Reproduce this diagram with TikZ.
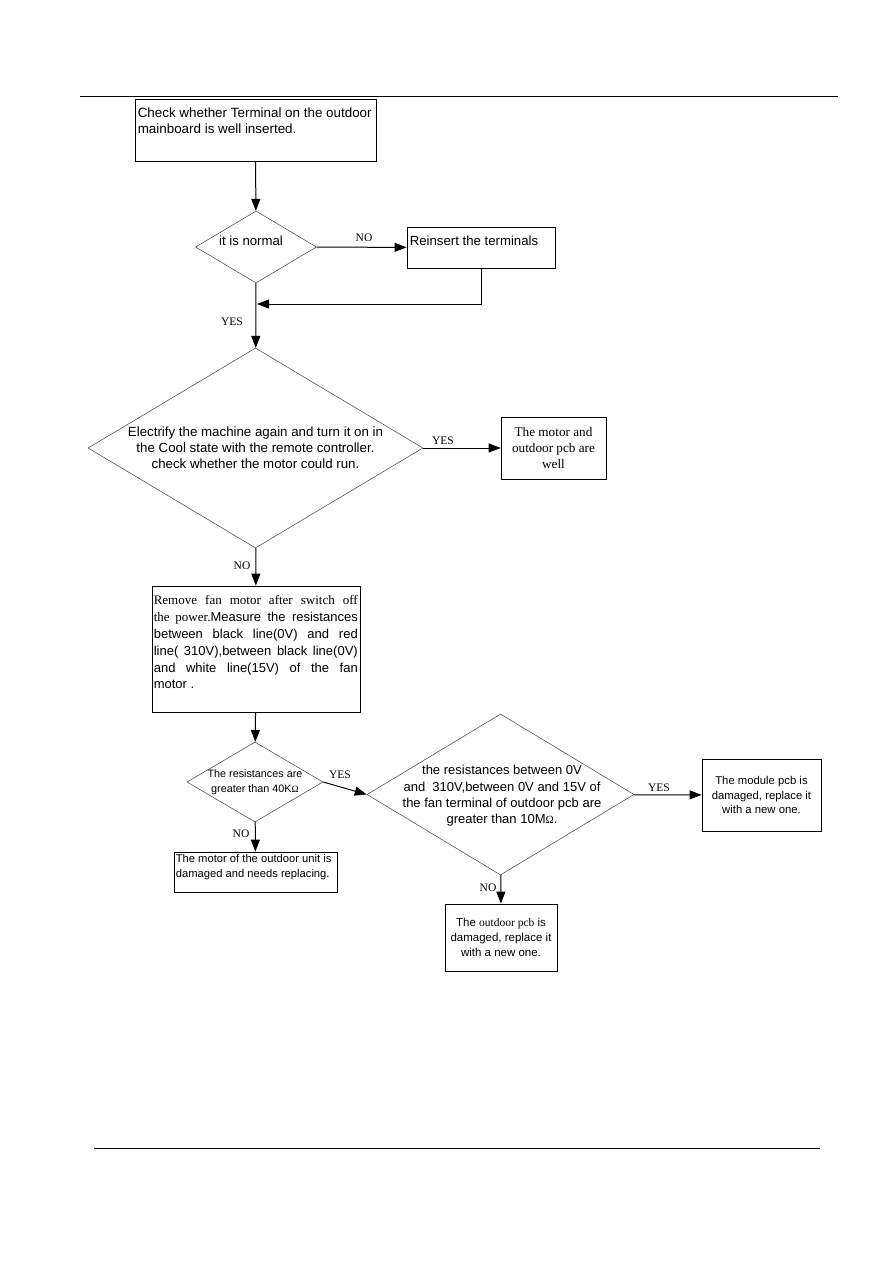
\documentclass[tikz,border=0pt]{standalone}
\usepackage{fontspec}
\setmainfont{Liberation Serif}
\setsansfont{Liberation Sans}
\usepackage{tikz}
\usetikzlibrary{arrows.meta,shapes.geometric}
\newcommand{\fsz}[2]{\fontsize{#1}{#2}\selectfont}
\newcommand{\jline}[1]{\makebox[204pt][s]{#1}}
\tikzset{
  box/.style={rectangle, draw=black, line width=0.8pt, inner sep=0pt, align=center},
  dec/.style={diamond, draw=black!75, line width=0.5pt, inner sep=0pt},
  txt/.style={align=left, inner xsep=3pt, inner ysep=9pt, anchor=north west},
  fl/.style={-{Triangle[length=12pt,width=9pt]}, draw=black, line width=1pt},
  lbl/.style={font=\rmfamily\fsz{11.5}{13}, inner sep=0pt}
}

\begin{document}
\begin{tikzpicture}[x=1pt,y=-1pt]
  \useasboundingbox (0,0) rectangle (893,1263);
  % page rules
  \draw[line width=0.8pt] (80,96) -- (838,96);
  \draw[line width=0.8pt] (94,1148) -- (820,1148);

  % first check
  \node[box, minimum width=241pt, minimum height=62pt,
        label={[txt, font=\sffamily\fsz{13.4}{16}]north west:{Check whether Terminal on the outdoor\\mainboard is well inserted.}}]
        (chk) at (255.5,130) {};
  \node[dec, minimum width=121pt, minimum height=72pt,
        label={[font=\sffamily\fsz{13.2}{16}, xshift=-5pt, yshift=6pt]center:it is normal}]
        (norm) at (256,247) {};
  \node[box, minimum width=148pt, minimum height=41pt,
        label={[txt, font=\sffamily\fsz{13.2}{16}]north west:Reinsert the terminals}]
        (reins) at (481,247.5) {};
  \coordinate (mrg) at (257,304);

  % run test
  \node[dec, minimum width=335pt, minimum height=200pt,
        label={[align=center, font=\sffamily\fsz{13.3}{16}]center:{Electrify the machine again and turn it on in\\the Cool state with the remote controller.\\check whether the motor could run.}}]
        (run) at (255.5,448) {};
  \node[box, minimum width=105pt, minimum height=62pt, font=\rmfamily\fsz{13.2}{16}]
        (well) at (553.5,448) {The motor and\\outdoor pcb are\\well};

  % measure
  \node[box, minimum width=208pt, minimum height=126pt,
        label={[txt, inner xsep=2pt, inner ysep=10pt, font=\sffamily\fsz{13}{16.8}]north west:{%
          \jline{\rmfamily Remove fan motor after switch off}\\
          \jline{{\rmfamily the power.}Measure the resistances}\\
          \jline{between black line(0V) and red}\\
          \jline{line( 310V),between black line(0V)}\\
          \jline{and white line(15V) of the fan}\\
          motor .}}]
        (meas) at (256,649) {};

  \node[dec, minimum width=136pt, minimum height=80pt,
        label={[align=center, font=\sffamily\fsz{10.8}{15}]center:{The resistances are\\greater than 40K{\rmfamily\fsz{9.5}{15}Ω}}}]
        (res) at (255,782) {};
  \node[box, minimum width=163pt, minimum height=40pt,
        label={[txt, inner xsep=2pt, inner ysep=3pt, font=\sffamily\fsz{11.2}{15}]north west:{The motor of the outdoor unit is\\damaged and needs replacing.}}]
        (mot) at (255.5,872) {};

  \node[dec, minimum width=267pt, minimum height=161pt,
        label={[align=center, font=\sffamily\fsz{13}{16.3}, xshift=1.5pt, yshift=-1.5pt]center:{the resistances between 0V\\and\ \ 310V,between 0V and 15V of\\the fan terminal of outdoor pcb are\\greater than 10M{\rmfamily\fsz{11}{16}Ω}.}}]
        (gnd) at (500.5,794.5) {};
  \node[box, minimum width=119pt, minimum height=72pt, font=\sffamily\fsz{11.3}{14.5}]
        (mod) at (761.5,795) {The module pcb is\\damaged, replace it\\with a new one.};
  \node[box, minimum width=112pt, minimum height=67pt, font=\sffamily\fsz{11.5}{15}]
        (pcb) at (501,937.5) {The {\rmfamily outdoor pcb} is\\damaged, replace it\\with a new one.};

  % connectors
  \draw[fl] (chk) -- (norm);
  \draw[fl] (norm) -- (reins);
  \draw[fl] (reins.south) |- (mrg);
  \draw[fl] (norm) -- (run);
  \draw[fl] (run) -- (well);
  \draw[fl] (run) -- (meas);
  \draw[fl] (meas) -- (res);
  \draw[fl] (res.east) -- (gnd.west);
  \draw[fl] (res) -- (mot);
  \draw[fl] (gnd) -- (mod);
  \draw[fl] (gnd) -- (pcb);

  % branch labels
  \node[lbl] (n1) at (364,238) {NO};
  \node[lbl] (y1) at (232,322) {YES};
  \node[lbl] (y2) at (443,441) {YES};
  \node[lbl] (n2) at (242,566) {NO};
  \node[lbl] (y3) at (340,775) {YES};
  \node[lbl] (n3) at (241,834) {NO};
  \node[lbl] (y4) at (659,788) {YES};
  \node[lbl] (n4) at (488,888) {NO};
\end{tikzpicture}
\end{document}
